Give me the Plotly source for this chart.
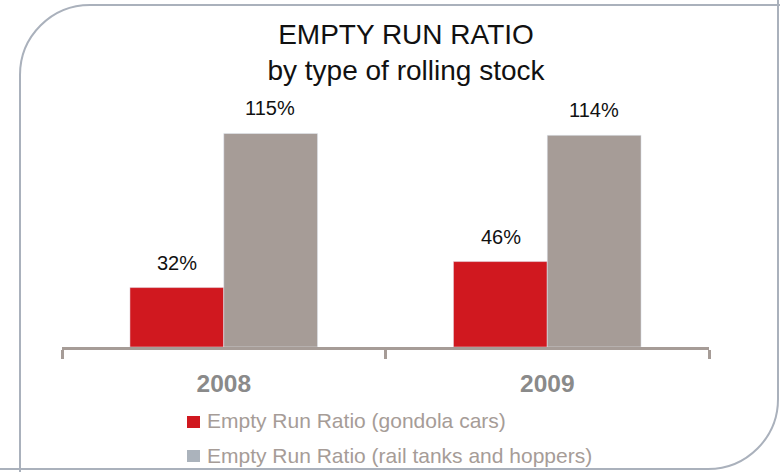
import plotly.graph_objects as go

years = ["2008", "2009"]
gondola = [32, 46]
tanks = [115, 114]
series_names = ["Empty Run Ratio (gondola cars)", "Empty Run Ratio (rail tanks and hoppers)"]

RED = "#D0181F"
GRAY = "#A69C97"
LEG_GRAY = "#ABB3BC"
FONT = "Liberation Sans, Arial"

W, H = 780, 472
ML, MR, MT, MB = 62, 71, 87, 125
PW, PH = W - ML - MR, H - MT - MB

def px(x):
    return (x - ML) / PW

def py(y):
    return (H - MB - y) / PH

fig = go.Figure()
fig.add_trace(go.Bar(x=years, y=gondola, marker_color=RED, showlegend=False, name=series_names[0]))
fig.add_trace(go.Bar(x=years, y=tanks, marker_color=GRAY, showlegend=False, name=series_names[1]))

annots = []
for i, (g, t) in enumerate(zip(gondola, tanks)):
    annots.append(dict(x=i, y=g, text=f"{g}%", xref="x", yref="y", showarrow=False,
                       yanchor="bottom", xshift=-46.5, yshift=12,
                       font=dict(size=20, color="#111111", family=FONT)))
    annots.append(dict(x=i, y=t, text=f"{t}%", xref="x", yref="y", showarrow=False,
                       yanchor="bottom", xshift=46.5, yshift=12,
                       font=dict(size=20, color="#111111", family=FONT)))

shapes = []
# manual legend
for i, (nm, col) in enumerate(zip(series_names, [RED, LEG_GRAY])):
    cy = 422 + 34 * i
    shapes.append(dict(type="rect", xref="paper", yref="paper",
                       x0=px(187), x1=px(200), y0=py(cy - 6), y1=py(cy + 6),
                       fillcolor=col, line=dict(width=0)))
    annots.append(dict(x=px(205), y=py(cy - 1), xref="paper", yref="paper", text=nm, showarrow=False,
                       xanchor="left", yanchor="middle",
                       font=dict(size=21, color=GRAY, family=FONT)))

# rounded border (top-left and bottom-right corners)
k = 0.5523
r = 70
lx, ty = 20, 5
rx, by = 778, 469
def P(x, y):
    return f"{px(x):.5f},{py(y):.5f}"
path = (f"M{P(lx, H + 5)} L{P(lx, ty + r)} "
        f"C{P(lx, ty + r - k * r)} {P(lx + r - k * r, ty)} {P(lx + r, ty)} "
        f"L{P(W + 5, ty)} "
        f"M{P(rx, -5)} L{P(rx, by - r)} "
        f"C{P(rx, by - r + k * r)} {P(rx - r + k * r, by)} {P(rx - r, by)} "
        f"L{P(-5, by)}")
shapes.append(dict(type="path", path=path, xref="paper", yref="paper",
                   line=dict(color="#AAB1BC", width=2), layer="above"))

fig.update_layout(
    width=W, height=H,
    margin=dict(l=ML, r=MR, t=MT, b=MB, autoexpand=False),
    paper_bgcolor="white", plot_bgcolor="white",
    barmode="group", bargap=0.42, bargroupgap=0,
    showlegend=False,
    font=dict(family=FONT, color="#111111"),
    title=dict(text="EMPTY RUN RATIO<br>by type of rolling stock", x=406 / W, xref="container",
               xanchor="center", y=1 - 44 / H, yanchor="top",
               font=dict(size=28, color="#111111", family=FONT)),
    xaxis=dict(type="category", automargin=False, range=[-0.5, len(years) - 0.5],
               showline=True, linecolor=GRAY, linewidth=3, ticks="outside", tickson="boundaries",
               ticklen=9, tickwidth=3, tickcolor=GRAY, showgrid=False, tickangle=0,
               tickfont=dict(size=24.5, color="#8A8A8A", family=FONT, weight="bold"),
               ticklabelstandoff=13),
    yaxis=dict(range=[0, 140], visible=False, showgrid=False),
    annotations=annots,
    shapes=shapes,
)

fig.write_html("out.html", post_script="document.body.style.margin='0';",
               config={"displayModeBar": False})
